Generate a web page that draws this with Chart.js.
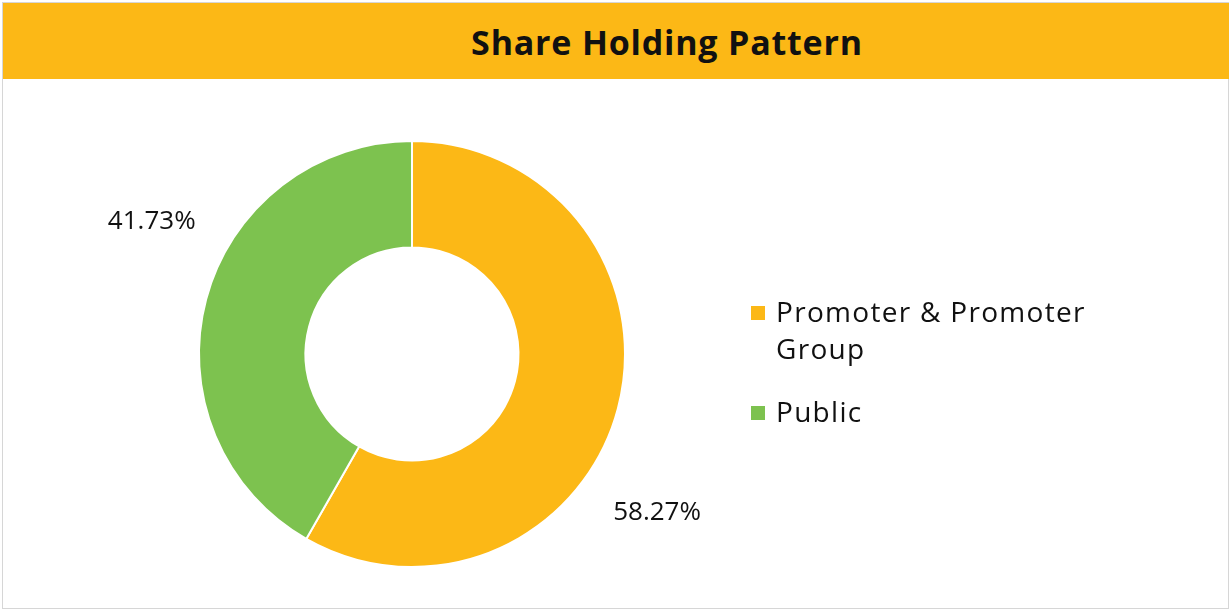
<!DOCTYPE html>
<html>
<head>
<meta charset="utf-8">
<script src="https://cdn.jsdelivr.net/npm/chart.js@4/dist/chart.umd.min.js"></script>
<style>
  body { margin: 0; width: 1229px; height: 610px; background: #fff; position: relative; overflow: hidden; font-family: 'Open Sans', sans-serif; }
  #frame { position: absolute; left: 2px; top: 2px; width: 1225px; height: 605px; border: 1px solid #d6d6d6; }
  #header { position: absolute; left: 3px; top: 3px; width: 1226px; height: 76px; background: #FCB816; }
  #header h1 { margin: 0; position: absolute; left: 0; right: 0; top: 0; padding-left: 102px; text-align: center; line-height: 78px; font-size: 34px; font-weight: 700; color: #111; letter-spacing: 0.8px; }
  #chartBox { position: absolute; left: 0; top: 80px; width: 830px; height: 527px; }
  #legend { position: absolute; left: 751px; top: 293px; width: 380px; }
  .item { display: flex; align-items: flex-start; font-size: 28px; line-height: 37px; color: #111; letter-spacing: 1.3px; margin-bottom: 26px; }
  .swatch { width: 14px; height: 14px; margin-top: 13px; margin-right: 11px; flex: none; }
</style>
</head>
<body>
<div id="frame"></div>
<div id="header"><h1>Share Holding Pattern</h1></div>
<div id="chartBox"><canvas id="chartShare"></canvas></div>
<div id="legend"></div>
<script>
// data
const categories = ['Promoter & Promoter Group', 'Public'];
const shareValues = [58.27, 41.73];
const sliceColors = ['#FCB816', '#7DC24F'];

// outside labels, nudged past the mid angle like the original (degrees)
const labelNudge = [18, 12];

const outsideLabels = {
  id: 'outsideLabels',
  afterDatasetsDraw(chart) {
    const ctx = chart.ctx;
    const meta = chart.getDatasetMeta(0);
    ctx.save();
    ctx.font = '26px "Open Sans", sans-serif';
    ctx.fillStyle = '#111';
    ctx.textAlign = 'center';
    ctx.textBaseline = 'middle';
    meta.data.forEach((arc, i) => {
      const p = arc.getProps(['x', 'y', 'startAngle', 'endAngle', 'outerRadius'], true);
      const mid = (p.startAngle + p.endAngle) / 2 + labelNudge[i] * Math.PI / 180;
      const r = p.outerRadius * 1.37;
      ctx.fillText(shareValues[i].toFixed(2) + '%', p.x + Math.cos(mid) * r, p.y + Math.sin(mid) * r);
    });
    ctx.restore();
  }
};

new Chart(document.getElementById('chartShare').getContext('2d'), {
  type: 'doughnut',
  data: {
    labels: categories,
    datasets: [{
      data: shareValues,
      backgroundColor: sliceColors,
      borderColor: '#ffffff',
      borderWidth: 2
    }]
  },
  options: {
    responsive: true,
    maintainAspectRatio: false,
    animation: false,
    cutout: '50%',
    layout: { padding: { left: 198, right: 204, top: 60, bottom: 39 } },
    plugins: { legend: { display: false }, tooltip: { enabled: false } }
  },
  plugins: [outsideLabels]
});

// html legend
const legendEl = document.getElementById('legend');
categories.forEach((name, i) => {
  const row = document.createElement('div');
  row.className = 'item';
  row.innerHTML = `<span class="swatch" style="background:${sliceColors[i]}"></span><span>${name.replace('Promoter Group', 'Promoter<br>Group')}</span>`;
  legendEl.appendChild(row);
});
</script>
</body>
</html>
